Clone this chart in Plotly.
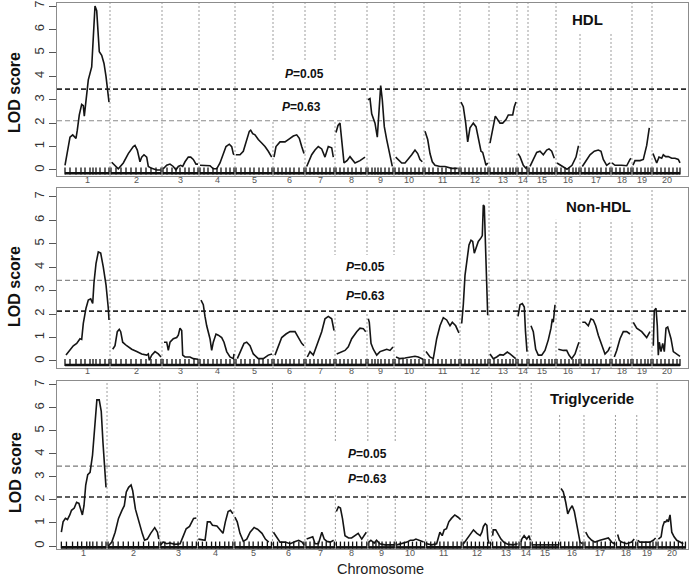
import plotly.graph_objects as go

# ---------------- data ----------------
chrom_names = [str(i) for i in range(1, 21)]
chrom_len = [44, 50, 35, 34, 36, 30, 28, 30, 25, 28, 34, 27, 26, 9, 26, 22, 29, 19, 18, 27]
first_start = 65
chrom_gap = 2

marker_pos = [
    [0, 5, 11, 16, 20, 25, 28, 31, 35, 40, 44],
    [0, 5, 10, 15, 20, 25, 30, 35, 40, 45, 50],
    [0, 4, 9, 13, 17, 22, 26, 31, 35],
    [0, 4, 8, 13, 17, 21, 26, 30, 34],
    [0, 5, 9, 14, 18, 23, 27, 32, 36],
    [0, 4, 8, 12, 16, 20, 25, 30],
    [0, 4, 8, 12, 16, 20, 24, 28],
    [0, 4, 8, 12, 16, 20, 25, 30],
    [0, 4, 7, 10, 13, 17, 21, 25],
    [0, 4, 8, 12, 16, 20, 24, 28],
    [0, 4, 8, 13, 17, 21, 26, 30, 34],
    [0, 4, 8, 12, 16, 20, 24, 27],
    [0, 4, 8, 12, 16, 20, 23, 26],
    [0, 4, 9],
    [0, 4, 8, 12, 16, 20, 23, 26],
    [0, 4, 8, 12, 16, 19, 22],
    [0, 4, 8, 12, 16, 20, 25, 29],
    [0, 4, 8, 12, 16, 19],
    [0, 4, 8, 12, 15, 18],
    [0, 4, 8, 12, 16, 20, 24, 27],
]

hdl_pos = [
    [0, 5, 7.7, 11, 12.3, 14.3, 16.7, 18.3, 19.3, 21, 23.3, 26.7, 28.3, 30, 31.7, 33.3, 34.3, 36.7, 39, 41, 43.3, 44],
    [0.7, 4, 7.3, 12.3, 17.3, 22.3, 24, 26.3, 29, 30.7, 33, 35.7, 37.3, 40.7, 45.7, 49.7],
    [0.3, 3.7, 7, 10.3, 13, 15.3, 17.7, 19.7, 22, 25.3, 27.7, 30.3, 33, 35],
    [0, 5, 10, 13.3, 16.7, 20, 23.3, 26, 29.3, 31.7, 33.3, 34],
    [0, 4, 7.3, 10.7, 13.3, 14.7, 16.7, 19, 22.3, 25.7, 29, 32.3, 35.7],
    [0, 2, 6, 11, 14.3, 19.3, 22.7, 25.3, 27.7, 30],
    [0.7, 4, 5.7, 9, 12.3, 15.7, 19, 22.3, 25.7, 27.3],
    [0, 2, 4, 6, 8, 11, 14, 19, 24, 29],
    [0, 2, 3.7, 7, 9.3, 11.3, 12.7, 14.3, 16.3, 18.7, 22, 24.3],
    [0.7, 3.3, 6.7, 10, 13.3, 16.7, 20, 22.7, 25, 27.3],
    [0, 2.7, 5, 7.3, 10, 15, 20, 26.7, 32.7],
    [0, 2.3, 4.7, 6.7, 9, 12.3, 15, 17.3, 20, 21.7, 23.3, 25, 26.7],
    [0, 2.7, 5.3, 7.7, 10, 12.7, 16, 18.3, 21, 22.7, 24.3, 26],
    [0, 2, 5.3, 8, 9],
    [1, 4.3, 7.7, 11, 14.3, 17.7, 20, 22.7, 25.3],
    [0, 5, 10, 15, 19, 21.3, 22],
    [1.3, 5.7, 9, 13.3, 17.3, 20, 22.3, 25.7, 29],
    [0, 3, 9.7, 14.7, 18, 19],
    [0, 2, 7, 10.3, 13.7, 16.3],
    [0, 1.3, 3.7, 6, 8.7, 10.3, 12.7, 15.3, 18.7, 22, 25.3, 27],
]
hdl_lod = [
    [0.2, 1.4, 1.5, 1.35, 1.7, 2.35, 2.8, 2.75, 2.3, 3.0, 3.85, 4.4, 5.8, 7.0, 6.8, 5.8, 5.05, 4.9, 4.55, 4.0, 3.3, 2.9],
    [0.33, 0.2, 0.05, 0.3, 0.7, 1.0, 1.05, 0.85, 0.35, 0.55, 0.65, 0.55, 0.15, 0.07, 0.0, 0.0],
    [0.05, 0.2, 0.25, 0.15, 0.0, 0.15, 0.2, 0.15, 0.35, 0.55, 0.55, 0.45, 0.25, 0.25],
    [0.2, 0.2, 0.18, 0.05, 0.05, 0.3, 0.65, 1.0, 1.1, 1.0, 0.7, 0.65],
    [0.65, 0.65, 0.8, 1.3, 1.65, 1.7, 1.55, 1.5, 1.3, 1.15, 1.0, 0.8, 0.55],
    [0.55, 1.0, 1.2, 1.2, 1.3, 1.45, 1.5, 1.35, 1.0, 0.7],
    [0.15, 0.45, 0.65, 0.85, 1.0, 0.9, 0.55, 1.0, 0.95, 0.55],
    [1.6, 1.9, 2.0, 1.2, 0.3, 0.4, 0.57, 0.3, 0.4, 0.55],
    [3.0, 3.05, 2.4, 2.0, 1.4, 2.7, 3.6, 3.0, 1.85, 1.3, 0.55, 0.15],
    [0.55, 0.45, 0.3, 0.3, 0.45, 0.65, 0.85, 0.7, 0.45, 0.35],
    [1.65, 1.3, 0.7, 0.35, 0.2, 0.15, 0.15, 0.07, 0.07],
    [2.9, 2.7, 2.0, 1.2, 1.8, 2.0, 1.85, 1.3, 0.8, 0.75, 0.45, 0.2, 0.3],
    [1.15, 1.7, 2.3, 2.15, 2.0, 2.0, 2.15, 2.35, 2.35, 2.35, 2.7, 2.9],
    [0.7, 0.57, 0.2, 0.07, 0.15],
    [0.15, 0.45, 0.75, 0.8, 0.65, 0.85, 0.9, 0.8, 0.5],
    [0.3, 0.15, 0.03, 0.2, 0.55, 1.0, 1.0],
    [0.15, 0.45, 0.65, 0.8, 0.85, 0.8, 0.45, 0.2, 0.3],
    [0.3, 0.2, 0.2, 0.18, 0.45, 0.5],
    [0.2, 0.4, 0.4, 0.45, 1.05, 1.8],
    [0.7, 0.57, 0.3, 0.55, 0.5, 0.65, 0.57, 0.57, 0.5, 0.5, 0.45, 0.3],
]

nonhdl_pos = [
    [1, 5, 8.3, 11.7, 15, 16.7, 18.3, 21, 23.3, 25.7, 27.7, 29, 31, 33.3, 35.7, 38.3, 41, 43.3, 44],
    [1.7, 4, 6.3, 8.3, 9.7, 11.7, 15.7, 20.7, 25.7, 30.7, 35.7, 37.3, 38.3, 40.7, 44, 47.3, 50],
    [1, 3.7, 5.3, 7, 10.3, 13.7, 15.3, 17, 18.7, 19.7, 22, 27, 30.3, 35],
    [1, 3.3, 5, 6.7, 10, 11.7, 13.3, 16, 18.3, 21.7, 24, 26.7, 30, 33.3, 34],
    [1.3, 4.7, 8, 10.7, 14, 17.3, 22.3, 27.3, 32.3, 36],
    [1, 4.3, 7.7, 12, 16, 21, 24.3, 27.7, 30],
    [1.3, 4, 7.3, 10.7, 13.3, 15.7, 19, 22.3, 25.7, 27.3, 28],
    [0.7, 7.3, 9, 12.3, 15.7, 20.7, 24, 27.3, 29.7],
    [0.3, 1.3, 3, 5.3, 8.7, 12, 15.3, 18.7, 22, 25],
    [1, 5, 10, 15, 20, 23.3, 28],
    [1, 5, 8.3, 11.7, 15, 18.3, 21.7, 25, 27.3, 30.7, 33.3, 34],
    [0.7, 2.3, 4, 5.7, 8, 10, 11.7, 13.3, 15, 17.3, 20, 21.3, 22.3, 23.3, 24.7, 25.7, 26.7],
    [0, 3.3, 6.7, 10, 13.3, 17.3, 20, 23.3, 25.7],
    [0, 2, 4.3, 6.3, 7.5, 8.5, 9],
    [2, 4.3, 6.7, 9.3, 12.7, 16, 19.3, 22, 23.3, 24.3, 26],
    [1.3, 6.3, 9.7, 12, 14.7, 18, 20.7, 22],
    [1.3, 4, 7.3, 10, 12.3, 14.7, 17.3, 20.7, 24, 27.3, 29],
    [2.3, 4.7, 8, 11.3, 14.7, 18],
    [0.3, 3.7, 8.7, 13.7, 17],
    [0.3, 1.3, 3, 4.3, 5.3, 6.3, 8, 9.7, 11.3, 13, 14.7, 16, 18, 20.3, 23.7, 27],
]
nonhdl_lod = [
    [0.25, 0.45, 0.65, 0.75, 0.95, 0.92, 1.6, 2.25, 2.6, 2.65, 2.45, 3.35, 4.15, 4.65, 4.6, 4.0, 3.25, 2.25, 1.75],
    [0.5, 0.65, 1.25, 1.35, 1.25, 0.8, 0.65, 0.5, 0.4, 0.3, 0.25, 0.3, 0.03, 0.25, 0.4, 0.3, 0.17],
    [0.8, 0.8, 0.45, 0.8, 0.95, 1.0, 1.1, 1.4, 1.3, 0.25, 0.17, 0.17, 0.1, 0.07],
    [2.6, 2.4, 1.9, 1.5, 0.95, 0.45, 0.8, 1.15, 1.1, 1.0, 0.8, 0.4, 0.17, 0.1, 0.3],
    [0.1, 0.4, 0.75, 0.8, 0.65, 0.3, 0.1, 0.1, 0.25, 0.3],
    [0.25, 0.65, 1.0, 1.15, 1.25, 1.25, 1.0, 0.75, 0.65],
    [0.17, 0.4, 0.25, 0.65, 0.95, 1.25, 1.8, 1.9, 1.8, 1.45, 1.3],
    [0.3, 0.43, 0.45, 0.6, 0.95, 1.25, 1.4, 1.38, 1.25],
    [1.8, 1.65, 0.75, 0.5, 0.25, 0.4, 0.45, 0.5, 0.45, 0.6],
    [0.17, 0.1, 0.13, 0.17, 0.2, 0.17, 0.07],
    [0.4, 0.17, 0.1, 0.95, 1.5, 1.85, 1.75, 1.5, 1.65, 1.5, 1.25, 1.2],
    [1.6, 2.4, 3.65, 4.2, 4.95, 5.15, 5.1, 4.6, 4.85, 5.1, 5.25, 5.35, 6.65, 6.6, 4.65, 3.25, 1.95],
    [0.3, 0.1, 0.17, 0.27, 0.25, 0.38, 0.3, 0.17, 0.1],
    [1.9, 2.4, 2.45, 2.3, 1.25, 0.45, 0.4],
    [1.5, 1.25, 0.5, 0.25, 0.25, 0.45, 0.9, 1.4, 1.8, 1.65, 2.4],
    [0.5, 0.45, 0.45, 0.25, 0.1, 0.3, 0.65, 0.8],
    [1.65, 1.65, 1.5, 1.8, 1.75, 1.5, 1.1, 0.65, 0.3, 0.45, 0.6],
    [0.17, 0.45, 0.95, 1.25, 1.25, 1.15],
    [1.65, 1.4, 1.25, 1.0, 1.25],
    [0.65, 2.15, 2.25, 1.5, 0.25, 0.8, 0.4, 0.75, 0.4, 1.4, 1.45, 1.25, 0.95, 0.4, 0.3, 0.2],
]

tg_pos = [
    [0, 1.7, 4, 6, 8.3, 10, 12.7, 15, 17.3, 19.3, 20.7, 22.3, 24, 26, 28.3, 30.7, 32.7, 35, 37.3, 39.3, 41, 42.7, 44],
    [0.3, 3.7, 7, 10.3, 13.7, 16, 18, 20.3, 22.7, 24.3, 27, 30.3, 33.7, 36, 38.7, 42, 46, 48.7, 50],
    [0, 2.3, 5.7, 9, 14, 19, 22.3, 25, 28.3, 30.7, 32.3, 35],
    [0, 3.3, 6.6, 8.9, 11.6, 13.9, 18.3, 21.6, 24.3, 26.6, 29.3, 31.6, 34],
    [0, 2.3, 5, 8.3, 11.7, 15, 19, 22.3, 26.7, 30, 33.3],
    [0, 3.2, 6.5, 11.5, 16.5, 21.5, 24.8, 28.2, 30],
    [0.7, 4, 6.7, 9, 12.3, 15.7, 18, 20.7, 24, 27.3],
    [0, 2, 4, 6, 8.5, 12, 15, 18, 21.5, 25, 28, 29.5],
    [0, 2, 5.3, 7.6, 10.8, 15.8, 22.3, 25],
    [0.7, 5.6, 10.5, 13.8, 17, 19.4, 22.7, 27],
    [0, 4.9, 9.8, 13, 15.3, 17.2, 19.5, 21.8, 24.4, 27.7, 30.9, 33.5],
    [0.3, 3.6, 6.9, 10.1, 13.5, 16.7, 18.4, 19.9, 21.7, 23.3, 24.3, 25.6],
    [0, 0.6, 3, 5.5, 8.2, 11.4, 15.4, 20.3, 24.6],
    [0, 0.7, 3, 5.6, 7.9, 9],
    [0, 6, 12, 18, 24, 26],
    [0.4, 2.6, 5, 7, 9.2, 11.4, 13.5, 15.9, 17.4, 19.1, 21.4],
    [0.7, 3.2, 6.6, 9.9, 14.8, 19.7, 23, 26.3, 28.9],
    [1.2, 2.8, 5.1, 10, 15, 17.5],
    [0, 2.2, 7.1, 12, 15.3, 17.6],
    [0.3, 3, 4.6, 6.2, 7.6, 8.9, 10.1, 11.8, 13.5, 15.8, 18.4, 21.7, 24.9],
]
tg_lod = [
    [0.6, 1.05, 1.2, 1.15, 1.35, 1.55, 1.65, 1.9, 1.85, 1.6, 1.35, 1.75, 2.65, 3.1, 3.2, 3.95, 5.25, 6.35, 6.35, 5.85, 4.5, 3.35, 2.55],
    [0.0, 0.17, 0.6, 1.2, 1.55, 1.75, 2.35, 2.55, 2.65, 2.4, 1.6, 1.05, 0.55, 0.25, 0.3, 0.55, 0.8, 0.6, 0.3],
    [0.05, 0.17, 0.1, 0.13, 0.07, 0.1, 0.45, 0.75, 0.85, 1.05, 1.2, 1.22],
    [0.3, 0.28, 0.25, 1.05, 1.05, 0.9, 0.87, 0.7, 0.55, 1.05, 1.5, 1.55, 1.4],
    [1.25, 1.05, 0.55, 0.2, 0.3, 0.6, 0.8, 0.73, 0.55, 0.3, 0.17],
    [0.6, 0.4, 0.17, 0.17, 0.1, 0.2, 0.25, 0.17, 0.05],
    [0.3, 0.35, 0.4, 0.1, 0.1, 0.6, 0.3, 0.2, 0.17, 0.25],
    [1.5, 1.7, 1.65, 1.2, 0.45, 0.35, 0.35, 0.45, 0.55, 0.3, 0.5, 0.6],
    [0.17, 0.25, 0.13, 0.25, 0.1, 0.05, 0.05, 0.05],
    [0.05, 0.1, 0.17, 0.25, 0.25, 0.3, 0.25, 0.17],
    [0.1, 0.05, 0.1, 0.6, 0.45, 0.7, 0.75, 1.05, 1.2, 1.35, 1.25, 1.15],
    [0.1, 0.3, 0.55, 0.7, 0.55, 0.45, 0.6, 0.85, 0.97, 0.9, 0.3, 0.1],
    [0.45, 0.7, 0.7, 0.5, 0.3, 0.15, 0.07, 0.05, 0.1],
    [0.17, 0.3, 0.45, 0.3, 0.45, 0.25],
    [0.05, 0.05, 0.04, 0.05, 0.05, 0.05],
    [2.5, 2.35, 1.9, 1.4, 1.6, 1.75, 1.5, 0.85, 0.45, 0.17, 0.1],
    [0.6, 0.4, 0.25, 0.17, 0.25, 0.3, 0.35, 0.17, 0.1],
    [0.5, 0.25, 0.17, 0.1, 0.17, 0.3],
    [0.25, 0.17, 0.17, 0.17, 0.25, 0.35],
    [0.3, 0.4, 0.85, 1.05, 1.05, 1.15, 1.05, 1.35, 0.6, 0.4, 0.25, 0.17, 0.1],
]

panel_titles = ["HDL", "Non-HDL", "Triglyceride"]
thr_p05 = [3.45, 3.44, 3.47]
thr_p63 = [2.10, 2.13, 2.13]

# ---------------- geometry ----------------
starts = []
s = first_start
for L in chrom_len:
    starts.append(s)
    s += L + chrom_gap
bounds = [st - chrom_gap / 2 for st in starts[1:]]
mids = [st + L / 2 for st, L in zip(starts, chrom_len)]


def genome_xy(pos_lists, lod_lists):
    xs, ys = [], []
    for st, ps, ls in zip(starts, pos_lists, lod_lists):
        xs += [st + p for p in ps] + [None]
        ys += list(ls) + [None]
    return xs, ys


FONT = "Liberation Sans, Arial, sans-serif"

panels = [
    dict(pos=hdl_pos, lod=hdl_lod, xr=[57, 688], yr=[-0.256, 7.13], dom=[0.6832, 1.0],
         base=-0.14, c05=("#2a2a2a", 1.7), c63=("#8a8a8a", 1.1),
         title_xy=(587, 6.44), p05_xy=(304, 4.10), p63_xy=(301, 2.69),
         tbox=(570, 622, 5.85, 7.3), pbox=(262, 345, 2.13, 4.61), ytitle=0.837, lab_y=0.6758),
    dict(pos=nonhdl_pos, lod=nonhdl_lod, xr=[57, 688], yr=[-0.30, 7.38], dom=[0.3315, 0.6612],
         base=-0.17, c05=("#8a8a8a", 1.1), c63=("#2a2a2a", 1.7),
         title_xy=(598, 6.6), p05_xy=(365, 4.01), p63_xy=(365, 2.77),
         tbox=(545, 645, 6.02, 7.5), pbox=(330, 420, 2.09, 4.52), ytitle=0.4817, lab_y=0.3260),
    dict(pos=tg_pos, lod=tg_lod, xr=[60.7, 682.5], yr=[-0.13, 7.17], dom=[0.0, 0.3077],
         base=-0.06, c05=("#7a7a7a", 1.2), c63=("#2a2a2a", 1.7),
         title_xy=(588, 6.43), p05_xy=(367, 4.0), p63_xy=(367, 2.9),
         tbox=(544.5, 645, 5.78, 7.3), pbox=(329.7, 416.4, 2.22, 4.52), ytitle=0.141, lab_y=-0.0073),
]

fig = go.Figure()
shapes = []
annotations = []
layout_axes = {}


def note(**kw):
    kw.setdefault("showarrow", False)
    kw.setdefault("xanchor", "center")
    kw.setdefault("yanchor", "middle")
    annotations.append(kw)


for i, p in enumerate(panels):
    n = "" if i == 0 else str(i + 1)
    xa, ya = "x" + n, "y" + n
    x_lo, x_hi = p["xr"]
    y_lo, y_hi = p["yr"]

    # LOD curve
    xs, ys = genome_xy(p["pos"], p["lod"])
    fig.add_trace(go.Scatter(x=xs, y=ys, mode="lines", xaxis=xa, yaxis=ya,
                             line=dict(color="#151515", width=1.6), hoverinfo="skip",
                             showlegend=False))
    # rug baseline per chromosome
    rx, ry = [], []
    for st, L in zip(starts, chrom_len):
        rx += [st, st + L, None]
        ry += [p["base"], p["base"], None]
    fig.add_trace(go.Scatter(x=rx, y=ry, mode="lines", xaxis=xa, yaxis=ya,
                             line=dict(color="#111", width=2.6), hoverinfo="skip",
                             showlegend=False))
    mx = [st + m for st, ms in zip(starts, marker_pos) for m in ms]
    fig.add_trace(go.Scatter(x=mx, y=[p["base"] + 0.1] * len(mx), mode="markers",
                             xaxis=xa, yaxis=ya,
                             marker=dict(symbol="line-ns", size=5,
                                         line=dict(color="#111", width=1.3)),
                             hoverinfo="skip", showlegend=False))

    # vertical chromosome separators
    for b in bounds:
        shapes.append(dict(type="line", xref=xa, yref=ya, x0=b, x1=b, y0=y_lo, y1=y_hi,
                           line=dict(color="#9c9c9c", width=1, dash="2px,2px"), layer="below"))
    # white patches (composite artefacts around labels)
    for (x0, x1, y0, y1) in (p["tbox"], p["pbox"]):
        shapes.append(dict(type="rect", xref=xa, yref=ya, x0=x0, x1=x1, y0=y0, y1=y1,
                           fillcolor="white", line=dict(width=0), layer="below"))
    # threshold lines
    for thr, (col, w) in ((thr_p05[i], p["c05"]), (thr_p63[i], p["c63"])):
        shapes.append(dict(type="line", xref=xa, yref=ya, x0=x_lo, x1=x_hi, y0=thr, y1=thr,
                           line=dict(color=col, width=w, dash="5px,3px"), layer="below"))

    note(x=p["title_xy"][0], y=p["title_xy"][1], xref=xa, yref=ya,
         text="<b>%s</b>" % panel_titles[i], font=dict(size=15, color="#111", family=FONT))
    note(x=p["p05_xy"][0], y=p["p05_xy"][1], xref=xa, yref=ya,
         text="<b><i>P</i>=0.05</b>", font=dict(size=12, color="#111", family=FONT))
    note(x=p["p63_xy"][0], y=p["p63_xy"][1], xref=xa, yref=ya,
         text="<b><i>P</i>=0.63</b>", font=dict(size=12, color="#111", family=FONT))
    note(x=-0.0666, y=p["ytitle"], xref="paper", yref="paper",
         text="<b>LOD score</b>", textangle=-90, font=dict(size=16, color="#111", family=FONT))
    # chromosome numbers under each panel
    for m, name in zip(mids, chrom_names):
        note(x=m, y=p["lab_y"], xref=xa, yref="paper", text=name,
             font=dict(size=9, color="#555", family=FONT))

    layout_axes["xaxis" + n] = dict(
        domain=[0, 1], range=p["xr"], anchor=ya, showgrid=False, zeroline=False,
        showline=True, mirror=True, linecolor="#8c8c8c", linewidth=1.4,
        showticklabels=False, ticks="", automargin=False)
    layout_axes["yaxis" + n] = dict(
        domain=p["dom"], range=p["yr"], anchor=xa, showgrid=False, zeroline=False,
        showline=True, mirror=True, linecolor="#8c8c8c", linewidth=1.4,
        tickvals=list(range(0, 8)), ticks="outside", ticklen=7, tickcolor="#555",
        tickangle=-90, tickfont=dict(size=13, color="#333", family=FONT), automargin=False)

note(x=0.512, y=-0.0366, xref="paper", yref="paper", text="Chromosome",
     font=dict(size=14.5, color="#222", family=FONT))

fig.update_layout(
    width=690, height=577,
    margin=dict(l=57, r=2, t=3, b=28, autoexpand=False),
    paper_bgcolor="white", plot_bgcolor="white",
    font=dict(family=FONT),
    shapes=shapes, annotations=annotations,
    **layout_axes,
)

fig.write_html("out.html",
               config={"displayModeBar": False},
               post_script="document.body.style.margin='0';document.body.style.padding='0';")
